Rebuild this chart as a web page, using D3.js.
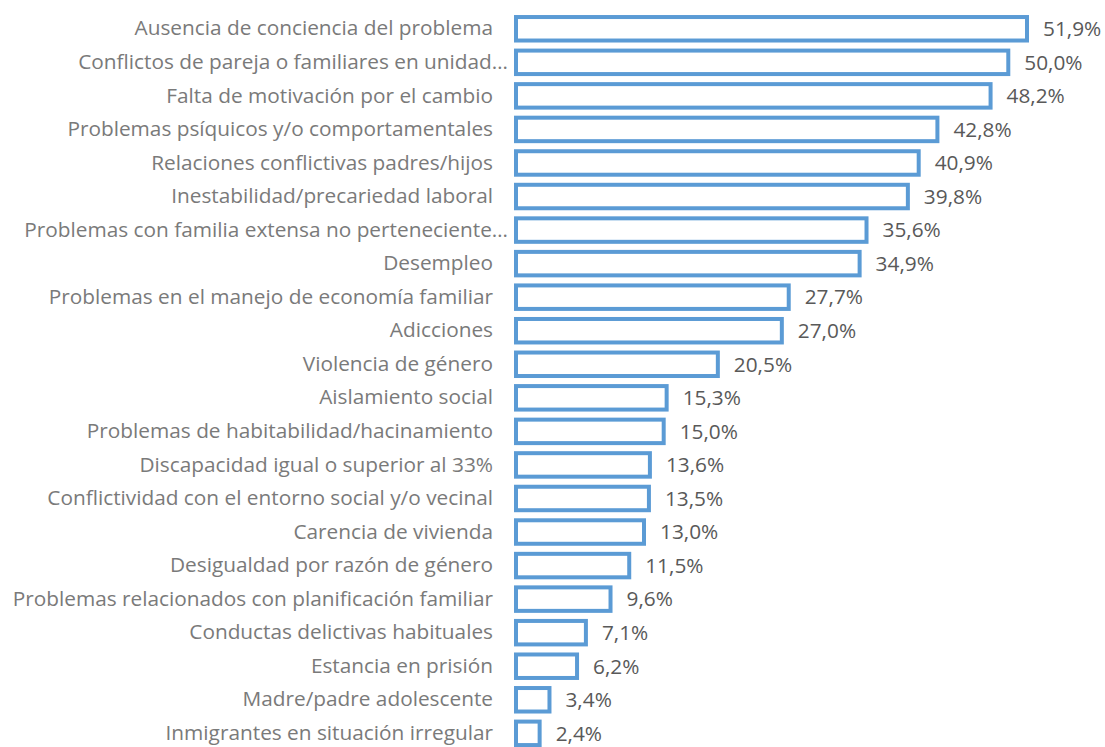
<!DOCTYPE html>
<html lang="es">
<head>
    <meta charset="UTF-8">
    <title>Problemáticas detectadas</title>
    <script src="https://d3js.org/d3.v7.min.js"></script>
    <style>
        body { margin: 0; background: #fff; }
        svg text { font-family: "Open Sans", "Noto Sans", sans-serif; }
    </style>
</head>
<body>
    <div id="chart"></div>
    <script>
        // Data
        const categories = [
            "Ausencia de conciencia del problema",
            "Conflictos de pareja o familiares en unidad…",
            "Falta de motivación por el cambio",
            "Problemas psíquicos y/o comportamentales",
            "Relaciones conflictivas padres/hijos",
            "Inestabilidad/precariedad laboral",
            "Problemas con familia extensa no perteneciente…",
            "Desempleo",
            "Problemas en el manejo de economía familiar",
            "Adicciones",
            "Violencia de género",
            "Aislamiento social",
            "Problemas de habitabilidad/hacinamiento",
            "Discapacidad igual o superior al 33%",
            "Conflictividad con el entorno social y/o vecinal",
            "Carencia de vivienda",
            "Desigualdad por razón de género",
            "Problemas relacionados con planificación familiar",
            "Conductas delictivas habituales",
            "Estancia en prisión",
            "Madre/padre adolescente",
            "Inmigrantes en situación irregular"
        ];
        const values = [51.9, 50.0, 48.2, 42.8, 40.9, 39.8, 35.6, 34.9, 27.7, 27.0, 20.5,
                        15.3, 15.0, 13.6, 13.5, 13.0, 11.5, 9.6, 7.1, 6.2, 3.4, 2.4];

        const data = categories.map((c, i) => ({name: c, value: values[i]}));

        const W = 1105, H = 747;
        const x0 = 516, rowTop = 12, rowStep = 33.55;

        const svg = d3.select("#chart")
          .append("svg")
            .attr("width", W)
            .attr("height", H);

        // Scales
        const x = d3.scaleLinear()
            .domain([0, 51.9])
            .range([x0, 1027]);

        const y = d3.scaleBand()
            .domain(categories)
            .range([rowTop, rowTop + rowStep * categories.length])
            .paddingInner(0.3)
            .paddingOuter(0.15);

        // Category axis (labels only)
        const yAxis = svg.append("g")
            .attr("transform", `translate(${x0 - 1},0)`)
            .call(d3.axisLeft(y).tickSize(0).tickPadding(22));
        yAxis.select(".domain").remove();
        yAxis.selectAll("text")
            .style("font-size", "20.8px")
            .style("fill", "#7a7a7a")
            // truncated labels run a bit closer to the bars
            .attr("x", d => d.endsWith("…") ? -7 : -22);

        // Bars: white fill, blue outline
        svg.selectAll(".bar")
            .data(data)
            .enter()
            .append("rect")
            .attr("class", "bar")
            .attr("x", x(0))
            .attr("y", d => y(d.name))
            .attr("width", d => x(d.value) - x(0))
            .attr("height", y.bandwidth())
            .attr("fill", "#fff")
            .attr("stroke", "#5b9bd5")
            .attr("stroke-width", 4);

        // Value labels
        const fmt = v => v.toFixed(1).replace(".", ",") + "%";
        svg.selectAll(".val")
            .data(data)
            .enter()
            .append("text")
            .attr("class", "val")
            .attr("x", d => x(d.value) + 16)
            .attr("y", d => y(d.name) + y.bandwidth() / 2)
            .attr("dy", "0.35em")
            .style("font-size", "20.8px")
            .style("fill", "#595959")
            .text(d => fmt(d.value));
    </script>
</body>
</html>
